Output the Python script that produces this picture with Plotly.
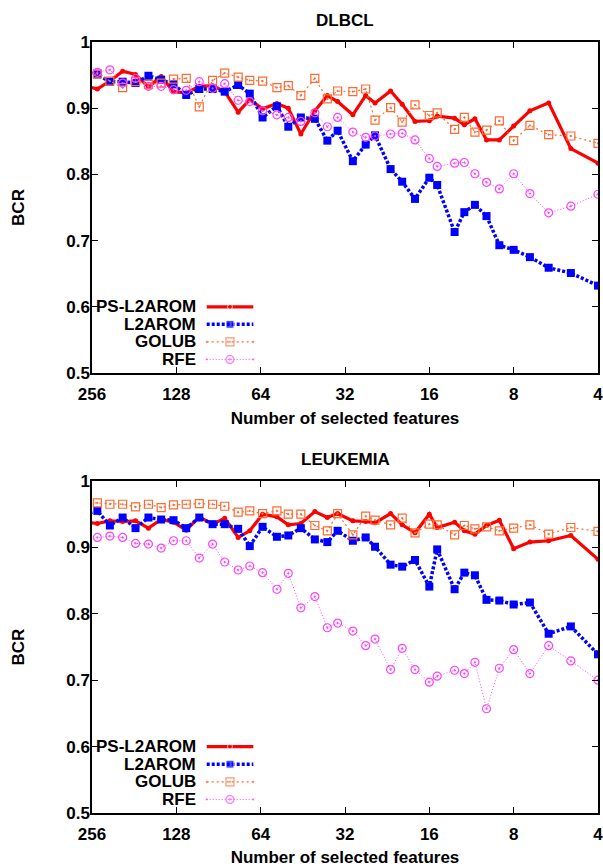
import math
import plotly.graph_objects as go

# ---------------- data ----------------
features = [272, 245, 221, 199, 179, 161, 145, 131, 118, 106, 95, 86, 77, 70, 63, 56, 51, 46, 41, 37,
            34, 30, 27, 25, 22, 20, 18, 16, 15, 13, 12, 11, 10, 9, 8, 7, 6, 5, 4]

dlbcl_ps_l2arom = [0.934, 0.929, 0.941, 0.956, 0.951, 0.932, 0.948, 0.925, 0.923, 0.933, 0.934, 0.925,
                   0.894, 0.913, 0.899, 0.907, 0.900, 0.861, 0.896, 0.919, 0.910, 0.890, 0.919, 0.908,
                   0.926, 0.906, 0.880, 0.881, 0.888, 0.885, 0.875, 0.884, 0.852, 0.852, 0.873, 0.896,
                   0.908, 0.839, 0.817]
dlbcl_l2arom = [0.955, 0.951, 0.940, 0.940, 0.938, 0.949, 0.943, 0.936, 0.920, 0.929, 0.929, 0.925,
                0.935, 0.922, 0.886, 0.903, 0.872, 0.886, 0.884, 0.851, 0.866, 0.820, 0.845, 0.859,
                0.808, 0.789, 0.763, 0.795, 0.784, 0.713, 0.743, 0.754, 0.737, 0.693, 0.686, 0.675,
                0.659, 0.651, 0.632]
dlbcl_golub = [0.948, 0.952, 0.941, 0.931, 0.940, 0.936, 0.938, 0.944, 0.945, 0.902, 0.942, 0.953,
               0.947, 0.942, 0.941, 0.931, 0.934, 0.919, 0.945, 0.914, 0.926, 0.925, 0.929, 0.882,
               0.901, 0.879, 0.905, 0.889, 0.893, 0.868, 0.886, 0.864, 0.867, 0.881, 0.851, 0.874,
               0.860, 0.858, 0.847]
dlbcl_rfe = [0.953, 0.954, 0.958, 0.938, 0.945, 0.933, 0.933, 0.928, 0.927, 0.940, 0.930, 0.937,
             0.912, 0.910, 0.896, 0.890, 0.886, 0.880, 0.893, 0.872, 0.886, 0.864, 0.856, 0.858,
             0.861, 0.862, 0.852, 0.824, 0.812, 0.817, 0.818, 0.801, 0.788, 0.778, 0.801, 0.771,
             0.742, 0.752, 0.770]

leuk_ps_l2arom = [0.938, 0.936, 0.940, 0.939, 0.940, 0.929, 0.942, 0.938, 0.926, 0.946, 0.935, 0.944,
                  0.915, 0.925, 0.950, 0.946, 0.934, 0.936, 0.954, 0.945, 0.951, 0.940, 0.939, 0.937,
                  0.951, 0.934, 0.922, 0.950, 0.930, 0.938, 0.925, 0.920, 0.933, 0.941, 0.898, 0.908,
                  0.910, 0.918, 0.882]
leuk_l2arom = [0.950, 0.955, 0.933, 0.945, 0.929, 0.945, 0.942, 0.941, 0.929, 0.945, 0.935, 0.935,
               0.928, 0.902, 0.931, 0.916, 0.918, 0.929, 0.912, 0.908, 0.925, 0.910, 0.915, 0.901,
               0.874, 0.871, 0.881, 0.841, 0.897, 0.837, 0.862, 0.858, 0.821, 0.820, 0.814, 0.817,
               0.770, 0.781, 0.739]
leuk_golub = [0.968, 0.967, 0.965, 0.965, 0.961, 0.965, 0.960, 0.964, 0.965, 0.966, 0.965, 0.962,
              0.953, 0.955, 0.951, 0.955, 0.950, 0.950, 0.933, 0.925, 0.951, 0.919, 0.947, 0.941,
              0.934, 0.944, 0.922, 0.935, 0.934, 0.919, 0.933, 0.928, 0.931, 0.925, 0.929, 0.934,
              0.920, 0.930, 0.924]
leuk_rfe = [0.912, 0.915, 0.917, 0.915, 0.906, 0.905, 0.899, 0.910, 0.910, 0.884, 0.905, 0.878,
            0.866, 0.872, 0.862, 0.837, 0.861, 0.809, 0.826, 0.779, 0.786, 0.774, 0.752, 0.762,
            0.716, 0.748, 0.716, 0.697, 0.706, 0.715, 0.710, 0.727, 0.657, 0.718, 0.746, 0.710,
            0.752, 0.729, 0.700]

series_names = ["PS-L2AROM", "L2AROM", "GOLUB", "RFE"]
panel_titles = ["DLBCL", "LEUKEMIA"]
x_tick_vals = [256, 128, 64, 32, 16, 8, 4]
y_tick_vals = [0.5, 0.6, 0.7, 0.8, 0.9, 1.0]
y_tick_text = ["0.5", "0.6", "0.7", "0.8", "0.9", "1"]
x_title = "Number of selected features"
y_title = "BCR"

# ---------------- styles ----------------
FONT = "Liberation Sans, Arial, sans-serif"
FS = 17
styles = [
    dict(line=dict(color="#ff0000", width=3.2),
         marker=dict(symbol="circle", size=5, color="#ff0000")),
    dict(line=dict(color="#0000ff", width=3.5, dash="3px,2px"),
         marker=dict(symbol="square", size=8, color="#0000ff")),
    dict(line=dict(color="#ff6a30", width=1.2, dash="2px,3px"),
         marker=dict(symbol="square-open-dot", size=8, color="#ff6a30", line=dict(width=1.2))),
    dict(line=dict(color="#ff40ff", width=1.0, dash="1px,2px"),
         marker=dict(symbol="circle-open-dot", size=8, color="#ff40ff", line=dict(width=1.2))),
]

panels = [
    [dlbcl_ps_l2arom, dlbcl_l2arom, dlbcl_golub, dlbcl_rfe],
    [leuk_ps_l2arom, leuk_l2arom, leuk_golub, leuk_rfe],
]

fig = go.Figure()
axis_pairs = [("x", "y", "x3"), ("x2", "y2", "x4")]
for (xa, ya, xleg), data in zip(axis_pairs, panels):
    for name, vals, st in zip(series_names, data, styles):
        fig.add_trace(go.Scatter(x=features, y=vals, mode="lines+markers", name=name,
                                 xaxis=xa, yaxis=ya, line=st["line"], marker=st["marker"],
                                 showlegend=False))
    # gnuplot-style key: text right-aligned, sample to its right
    for i, (name, st) in enumerate(zip(series_names, styles)):
        ky = 0.6 - i * 0.0265
        mk = dict(st["marker"])
        mk["size"] = [0, st["marker"]["size"], 0]
        fig.add_trace(go.Scatter(x=[0.2267, 0.2727, 0.3188], y=[ky, ky, ky], mode="lines+markers",
                                 xaxis=xleg, yaxis=ya, line=st["line"], marker=mk,
                                 showlegend=False, hoverinfo="skip"))
        fig.add_annotation(x=0.2095, y=ky, xref=xleg, yref=ya, text=name, showarrow=False,
                           xanchor="right", yanchor="middle",
                           font=dict(family=FONT, size=FS, color="black", weight="bold"))

x_range = [math.log10(256) + 1e-9, math.log10(4) - 1e-9]
common_x = dict(type="log", range=x_range, tickvals=x_tick_vals,
                ticktext=[str(v) for v in x_tick_vals], ticks="inside", ticklen=6,
                tickcolor="black", showline=True, linecolor="black", linewidth=1.5,
                mirror="ticks", showgrid=False, zeroline=False, ticklabelstandoff=5,
                ticklabeloverflow="allow", automargin=False,
                tickfont=dict(family=FONT, size=FS, color="black", weight="bold"),
                title=dict(text=x_title, standoff=9,
                           font=dict(family=FONT, size=FS, color="black", weight="bold")))
common_y = dict(range=[0.5, 1.0], tickvals=y_tick_vals, ticktext=y_tick_text, ticks="inside",
                ticklen=6, tickcolor="black", showline=True, linecolor="black", linewidth=1.5,
                mirror="ticks", showgrid=False, zeroline=False, ticklabelstandoff=-3,
                automargin=False,
                tickfont=dict(family=FONT, size=FS, color="black", weight="bold"),
                title=dict(text=y_title, standoff=37,
                           font=dict(family=FONT, size=FS, color="black", weight="bold")))

fig.update_layout(
    width=603, height=867,
    margin=dict(l=92, r=5, t=42, b=54),
    paper_bgcolor="white", plot_bgcolor="white",
    xaxis=dict(common_x, anchor="y", domain=[0, 1]),
    yaxis=dict(common_y, anchor="x", domain=[0.5707, 1.0]),
    xaxis2=dict(common_x, anchor="y2", domain=[0, 1]),
    yaxis2=dict(common_y, anchor="x2", domain=[0.0, 0.4306]),
    xaxis3=dict(overlaying="x", anchor="y", range=[0, 1], visible=False),
    xaxis4=dict(overlaying="x2", anchor="y2", range=[0, 1], visible=False),
)

for title, ypos in zip(panel_titles, [1.0, 0.4306]):
    fig.add_annotation(x=0.5, y=ypos, xref="paper", yref="paper", yshift=22, text=title,
                       showarrow=False, xanchor="center", yanchor="middle",
                       font=dict(family=FONT, size=FS, color="black", weight="bold"))

fig.write_html("out.html", config={"displayModeBar": False},
               post_script="document.body.style.margin='0px';")
